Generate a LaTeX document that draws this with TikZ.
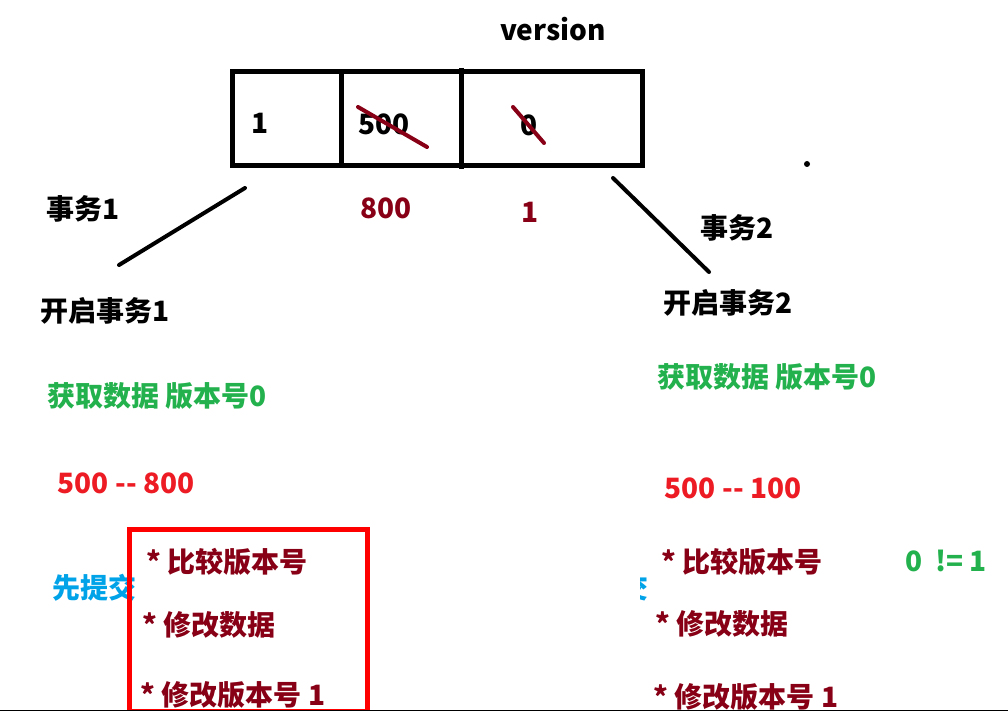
\documentclass[tikz,border=0pt]{standalone}
\usepackage{fontspec}
\setmainfont{Noto Sans CJK SC}
\definecolor{maroon}{RGB}{136,0,21}
\definecolor{pgreen}{RGB}{34,177,76}
\definecolor{pred}{RGB}{237,28,36}
\definecolor{pblue}{RGB}{0,162,232}
\definecolor{baseline}{RGB}{70,150,120}
\tikzset{
  lbl/.style={inner sep=0pt, anchor=center, font=\fontsize{28pt}{30pt}\selectfont\bfseries},
  strike/.style={draw=maroon, line width=4pt, line cap=round},
  conn/.style={draw=black, line width=4pt, line cap=round},
}
\begin{document}
\begin{tikzpicture}[x=1pt,y=-1pt]
\useasboundingbox (0,0) rectangle (1008,719);
\fill[white] (0,0) rectangle (1008,719);

% table
\node[lbl] (ver) at (553,29) {version};
\draw[black, line width=5pt] (232,72) rectangle (642,166);
\draw[black, line width=5pt] (341,72) -- (341,166);
\draw[black, line width=5pt] (461,68) -- (461,169);
\node[lbl] (c1) at (260,123) {1};
\node[lbl] (c2) at (384,124) {500};
\node[lbl] (c3) at (529,125) {0};
\coordinate (s1a) at (358,107); \coordinate (s1b) at (427,147);
\coordinate (s2a) at (513,107); \coordinate (s2b) at (544,143);
\draw[strike] (s1a) -- (s1b);
\draw[strike] (s2a) -- (s2b);
\node[lbl, text=maroon] (n800) at (386,208) {800};
\node[lbl, text=maroon] (n1) at (530,212) {1};
\fill[black] (807,164) circle (3pt);

% connectors
\coordinate (l1a) at (245,188); \coordinate (l1b) at (119,265);
\coordinate (l2a) at (613,178); \coordinate (l2b) at (709,272);
\draw[conn] (l1a) -- (l1b);
\draw[conn] (l2a) -- (l2b);

% left column
\node[lbl] (t1) at (83,209) {事务1};
\node[lbl] (o1) at (105,311) {开启事务1};
\node[lbl, text=pgreen] (g1) at (157,396) {获取数据 版本号0};
\node[lbl, text=pred] (r1) at (126,483) {500 -{}- 800};
\node[lbl, text=pblue] (b1) at (94,588) {先提交};
\node[lbl, text=maroon] (a1) at (227,562) {* 比较版本号};
\node[lbl, text=maroon] (a2) at (209,625) {* 修改数据};
\node[lbl, text=maroon] (a3) at (233,695) {* 修改版本号 1};
\begin{scope}
\clip (0,0) rectangle (1008,709.5);
\draw[red, line width=5pt] (129.5,529.5) rectangle (367.5,711);
\end{scope}

% right column
\node[lbl] (t2) at (737,228) {事务2};
\node[lbl] (o2) at (728,303) {开启事务2};
\node[lbl, text=pgreen] (g2) at (767,377) {获取数据 版本号0};
\node[lbl, text=pred] (r2) at (733,488) {500 -{}- 100};
\node[lbl, text=maroon] (d1) at (742,562) {* 比较版本号};
\node[lbl, text=pgreen] (ne) at (946,561) {0\ \ != 1};
\node[lbl, text=maroon] (d2) at (722,624) {* 修改数据};
\node[lbl, text=maroon] (d3) at (746,697) {* 修改版本号 1};
\begin{scope}
\clip (640,574) rectangle (650,603);
\node[lbl, text=pblue, anchor=east] (b2) at (649,588) {交};
\end{scope}

% baseline
\draw[baseline, line width=1.5pt] (0,710.5) -- (1008,710.5);
\end{tikzpicture}
\end{document}
